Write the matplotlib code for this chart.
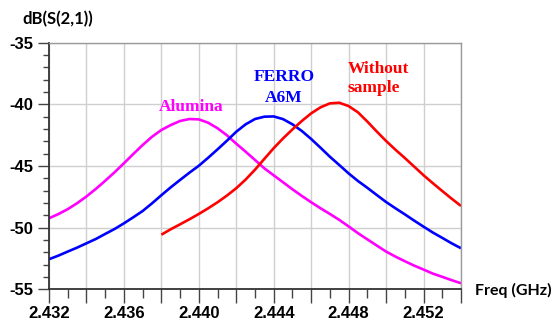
import matplotlib
matplotlib.use("Agg")
import matplotlib.pyplot as plt
from matplotlib.ticker import MultipleLocator, FuncFormatter

# ---- data (0.5 MHz steps) ----
freq_alumina = [2.432, 2.4325, 2.433, 2.4335, 2.434, 2.4345, 2.435, 2.4355, 2.436, 2.4365,
                2.437, 2.4375, 2.438, 2.4385, 2.439, 2.4395, 2.440, 2.4405, 2.441, 2.4415,
                2.442, 2.4425, 2.443, 2.4435, 2.444, 2.4445, 2.445, 2.4455, 2.446, 2.4465,
                2.447, 2.4475, 2.448, 2.4485, 2.449, 2.4495, 2.450, 2.4505, 2.451, 2.4515,
                2.452, 2.4525, 2.453, 2.4535, 2.454]
s21_alumina = [-49.24, -48.90, -48.50, -48.02, -47.47, -46.86, -46.20, -45.51, -44.78, -44.03,
               -43.30, -42.63, -42.08, -41.68, -41.35, -41.19, -41.22, -41.49, -41.94, -42.51,
               -43.19, -43.84, -44.51, -45.19, -45.76, -46.32, -46.89, -47.43, -47.94, -48.43,
               -48.89, -49.37, -49.90, -50.45, -50.95, -51.45, -51.94, -52.35, -52.72, -53.08,
               -53.40, -53.73, -53.99, -54.26, -54.51]

freq_ferro = [2.432, 2.4325, 2.433, 2.4335, 2.434, 2.4345, 2.435, 2.4355, 2.436, 2.4365,
              2.437, 2.4375, 2.438, 2.4385, 2.439, 2.4395, 2.440, 2.4405, 2.441, 2.4415,
              2.442, 2.4425, 2.443, 2.4435, 2.444, 2.4445, 2.445, 2.4455, 2.446, 2.4465,
              2.447, 2.4475, 2.448, 2.4485, 2.449, 2.4495, 2.450, 2.4505, 2.451, 2.4515,
              2.452, 2.4525, 2.453, 2.4535, 2.454]
s21_ferro = [-52.56, -52.27, -51.94, -51.62, -51.27, -50.92, -50.51, -50.11, -49.65, -49.16,
             -48.65, -48.03, -47.37, -46.73, -46.13, -45.54, -44.98, -44.33, -43.65, -42.95,
             -42.22, -41.62, -41.19, -41.00, -40.98, -41.20, -41.62, -42.16, -42.81, -43.52,
             -44.25, -44.92, -45.60, -46.22, -46.77, -47.35, -47.92, -48.43, -48.92, -49.43,
             -49.92, -50.40, -50.83, -51.27, -51.67]

freq_without = [2.438, 2.4385, 2.439, 2.4395, 2.440, 2.4405, 2.441, 2.4415, 2.442, 2.4425,
                2.443, 2.4435, 2.444, 2.4445, 2.445, 2.4455, 2.446, 2.4465, 2.447, 2.4475,
                2.448, 2.4485, 2.449, 2.4495, 2.450, 2.4505, 2.451, 2.4515, 2.452, 2.4525,
                2.453, 2.4535, 2.454]
s21_without = [-50.57, -50.13, -49.73, -49.32, -48.89, -48.43, -47.94, -47.40, -46.80, -46.10,
               -45.30, -44.42, -43.55, -42.76, -42.03, -41.35, -40.73, -40.24, -39.92, -39.87,
               -40.14, -40.65, -41.40, -42.20, -42.97, -43.68, -44.35, -45.05, -45.75, -46.40,
               -47.03, -47.65, -48.24]

series_labels = ["Alumina", "FERRO\nA6M", "Without\nsample"]
y_title = "dB(S(2,1))"
x_title = "Freq (GHz)"

# ---- figure ----
fig = plt.figure(figsize=(5.52, 3.28), dpi=100)
ax = fig.add_axes([49/552, 1-289.3/328, (461-49)/552, (289.3-42.7)/328])

ax.plot(freq_alumina, s21_alumina, color="#ff00ff", lw=1.9, solid_capstyle="butt")
ax.plot(freq_ferro, s21_ferro, color="#0000ff", lw=1.9, solid_capstyle="butt")
ax.plot(freq_without, s21_without, color="#ff0000", lw=1.9, solid_capstyle="butt")

ax.set_xlim(2.432, 2.454)
ax.set_ylim(-55, -35)

ax.xaxis.set_major_locator(MultipleLocator(0.002))
ax.xaxis.set_minor_locator(MultipleLocator(0.001))
ax.yaxis.set_major_locator(MultipleLocator(5))
ax.yaxis.set_minor_locator(MultipleLocator(1))

def xfmt(v, pos):
    k = round((v - 2.432) / 0.002)
    return f"{v:.3f}" if k % 2 == 0 else ""
ax.xaxis.set_major_formatter(FuncFormatter(xfmt))
ax.yaxis.set_major_formatter(FuncFormatter(lambda v, p: f"{v:.0f}"))

ax.grid(True, which="major", color="#cfcfcf", lw=1.0)
ax.set_axisbelow(True)

for lab in ax.get_xticklabels() + ax.get_yticklabels():
    lab.set_fontfamily("Liberation Sans")
    lab.set_fontweight("bold")
    lab.set_fontsize(12)

ax.tick_params(axis="x", which="major", direction="out", length=10, width=1.0,
               color="#444444", pad=2)
ax.tick_params(axis="x", which="minor", direction="out", length=6.5, width=1.0,
               color="#444444")
ax.tick_params(axis="y", which="major", direction="out", length=8, width=1.0,
               color="#444444", pad=3)
ax.tick_params(axis="y", which="minor", direction="out", length=4.5, width=1.0,
               color="#444444")

for s in ["left", "bottom"]:
    ax.spines[s].set_color("#333333")
    ax.spines[s].set_linewidth(1.3)
for s in ["top", "right"]:
    ax.spines[s].set_color("#9a9a9a")
    ax.spines[s].set_linewidth(1.0)

ann = dict(family="Liberation Serif", weight="bold", size=12.5)
ax.text(2.4396, -40.85, series_labels[0], color="#ff00ff", ha="center", va="bottom",
        linespacing=1.0, **ann)
ax.text(2.44455, -40.1, series_labels[1], color="#0000ff", ha="center", va="bottom",
        linespacing=1.4, **ann)
ax.text(2.44795, -39.3, series_labels[2], color="#ff0000", ha="left", va="bottom",
        linespacing=1.25, **ann)

fig.text(22/552, 1-19/328, y_title, ha="left", va="center",
         family="Lato", weight="bold", size=12)
fig.text(475/552, 1-290/328, x_title, ha="left", va="center",
         family="Lato", weight="bold", size=11.5)

fig.savefig("out.png", dpi=100)
